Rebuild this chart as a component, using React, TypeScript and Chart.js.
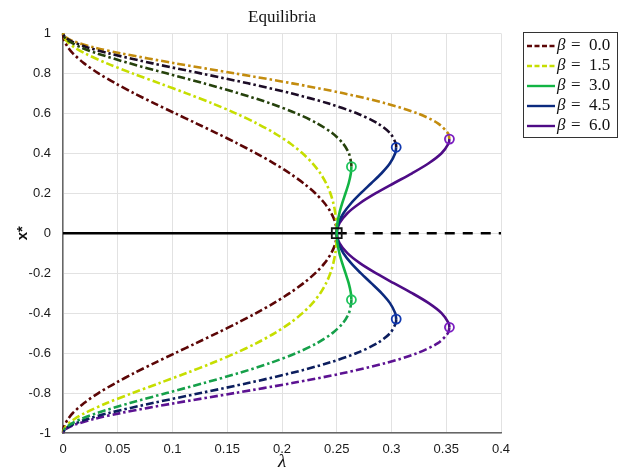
import React, { useEffect, useRef } from "react";
import { Chart, registerables } from "chart.js";

Chart.register(...registerables);

// x* sample values (upper branch; lower branch is mirrored)
const xsFull = [0, 0.05, 0.1, 0.15, 0.2, 0.25, 0.3, 0.35, 0.4, 0.45, 0.5, 0.55, 0.6, 0.65, 0.7, 0.75, 0.8, 0.85, 0.9, 0.93, 0.96, 0.98, 1.0];

// beta = 0.0 (whole branch unstable, dash-dot)
const lamB0 = [0.25, 0.2488, 0.245, 0.2389, 0.2304, 0.2197, 0.207, 0.1925, 0.1764, 0.159, 0.1406, 0.1216, 0.1024, 0.0834, 0.065, 0.0479, 0.0324, 0.0193, 0.009, 0.0046, 0.0015, 0.0004, 0];
// beta = 1.5
const lamB15 = [0.25, 0.2497, 0.2487, 0.2469, 0.2442, 0.2403, 0.235, 0.2279, 0.2187, 0.2073, 0.1934, 0.1768, 0.1577, 0.1362, 0.1128, 0.0882, 0.0635, 0.0401, 0.02, 0.0105, 0.0037, 0.001, 0];

// beta = 3.0
const xsB3Stable = [0, 0.05, 0.1, 0.15, 0.2, 0.25, 0.3, 0.333];
const lamB3Stable = [0.25, 0.2506, 0.2524, 0.255, 0.258, 0.2609, 0.2629, 0.2634];
const xsB3Unstable = [0.333, 0.35, 0.4, 0.45, 0.5, 0.55, 0.6, 0.65, 0.7, 0.75, 0.8, 0.85, 0.9, 0.93, 0.96, 0.98, 1];
const lamB3Unstable = [0.2634, 0.2632, 0.2611, 0.2556, 0.2461, 0.232, 0.213, 0.1891, 0.1606, 0.1286, 0.0946, 0.061, 0.031, 0.0164, 0.0058, 0.0015, 0];

// beta = 4.5
const xsB45Stable = [0, 0.05, 0.1, 0.15, 0.2, 0.25, 0.3, 0.35, 0.4, 0.43];
const lamB45Stable = [0.25, 0.2515, 0.2561, 0.2631, 0.2719, 0.2815, 0.2909, 0.2986, 0.3034, 0.3043];
const xsB45Unstable = [0.43, 0.45, 0.5, 0.55, 0.6, 0.65, 0.7, 0.75, 0.8, 0.85, 0.9, 0.93, 0.96, 0.98, 1];
const lamB45Unstable = [0.3043, 0.3039, 0.2988, 0.2872, 0.2683, 0.2419, 0.2084, 0.169, 0.1257, 0.0818, 0.0419, 0.0223, 0.0079, 0.0021, 0];

// beta = 6.0
const xsB6Stable = [0, 0.05, 0.1, 0.15, 0.2, 0.25, 0.3, 0.35, 0.4, 0.45, 0.471];
const lamB6Stable = [0.25, 0.2525, 0.2597, 0.2711, 0.2857, 0.3021, 0.3188, 0.334, 0.3457, 0.3522, 0.3529];
const xsB6Unstable = [0.471, 0.5, 0.55, 0.6, 0.65, 0.7, 0.75, 0.8, 0.85, 0.9, 0.93, 0.96, 0.98, 1];
const lamB6Unstable = [0.3529, 0.3516, 0.3424, 0.3236, 0.2947, 0.2562, 0.2094, 0.1568, 0.1027, 0.0529, 0.0282, 0.01, 0.0027, 0];

// fold points (lambda, x*)
const foldLam = [0.2634, 0.3043, 0.3529];
const foldX = [0.333, 0.43, 0.471];
const foldColors = ["#1fc45c", "#1038b0", "#7a1cc0"];

// trivial equilibrium x* = 0
const zeroStableLam = [0, 0.25];
const zeroUnstableLam = [0.25, 0.4];
const pitchforkLam = 0.25;

const legendLabels = ["0.0", "1.5", "3.0", "4.5", "6.0"];
const legendColors = ["#5c0606", "#c6de00", "#12b444", "#0c2a7e", "#4e0c86"];
const legendDashed = [true, true, false, false, false];

const xTickVals = [0, 0.05, 0.1, 0.15, 0.2, 0.25, 0.3, 0.35, 0.4];
const yTickVals = [-1, -0.8, -0.6, -0.4, -0.2, 0, 0.2, 0.4, 0.6, 0.8, 1];

const DASHDOT = [8, 3, 2.5, 3];

function pts(xs: number[], lams: number[], sign: number) {
  return xs.map((x, i) => ({ x: lams[i], y: sign * x }));
}
function fullBranch(xs: number[], lams: number[]) {
  const lower = pts(xs, lams, -1).reverse();
  const upper = pts(xs, lams, 1).slice(1);
  return lower.concat(upper);
}

function lineDs(data: any[], color: string, dash: number[] | undefined, width = 2.6) {
  return {
    data,
    showLine: true,
    borderColor: color,
    backgroundColor: color,
    borderWidth: width,
    borderDash: dash || [],
    pointRadius: 0,
    tension: 0.3,
    fill: false,
    clip: 4,
    order: 5,
  };
}

const legendPlugin = {
  id: "customLegend",
  afterDraw(chart: any) {
    const ctx = chart.ctx;
    const x0 = 523, y0 = 32, w = 94, h = 105;
    ctx.save();
    ctx.fillStyle = "#ffffff";
    ctx.fillRect(x0, y0, w, h);
    ctx.strokeStyle = "#333";
    ctx.lineWidth = 1;
    ctx.strokeRect(x0 + 0.5, y0 + 0.5, w, h);
    legendLabels.forEach((lab, i) => {
      const y = 46 + i * 20;
      ctx.beginPath();
      ctx.strokeStyle = legendColors[i];
      ctx.lineWidth = 2.4;
      ctx.setLineDash(legendDashed[i] ? [5, 2.5] : []);
      ctx.moveTo(527, y);
      ctx.lineTo(555, y);
      ctx.stroke();
      ctx.setLineDash([]);
      ctx.fillStyle = "#111";
      ctx.textBaseline = "middle";
      ctx.textAlign = "left";
      ctx.font = "italic 17px 'Liberation Serif', serif";
      ctx.fillText("β", 557, y);
      ctx.font = "17px 'Liberation Serif', serif";
      ctx.fillText("=", 571, y);
      ctx.fillText(lab, 589, y);
    });
    ctx.restore();
  },
};

export default function App() {
  const ref = useRef<HTMLCanvasElement | null>(null);
  useEffect(() => {
    if (!ref.current) return;
    const markers = {
      data: foldLam.flatMap((l, i) => [{ x: l, y: foldX[i] }, { x: l, y: -foldX[i] }]),
      showLine: false,
      pointRadius: 4.5,
      pointStyle: "circle",
      pointBorderWidth: 1.8,
      pointBackgroundColor: "rgba(0,0,0,0)",
      pointBorderColor: foldColors.flatMap((c) => [c, c]),
      order: 0,
      clip: false,
    };
    const square = {
      data: [{ x: pitchforkLam, y: 0 }],
      showLine: false,
      pointRadius: 7,
      pointStyle: "rect",
      pointBorderWidth: 1.8,
      pointBackgroundColor: "rgba(0,0,0,0)",
      pointBorderColor: "#111",
      order: 0,
    };
    const datasets: any[] = [
      markers,
      square,
      // beta 3.0
      lineDs(fullBranch(xsB3Stable, lamB3Stable), "#12b444", undefined),
      lineDs(pts(xsB3Unstable, lamB3Unstable, 1), "#26420c", DASHDOT),
      lineDs(pts(xsB3Unstable, lamB3Unstable, -1), "#16a04a", DASHDOT),
      // beta 4.5
      lineDs(fullBranch(xsB45Stable, lamB45Stable), "#0c2a7e", undefined),
      lineDs(pts(xsB45Unstable, lamB45Unstable, 1), "#1c0c26", DASHDOT),
      lineDs(pts(xsB45Unstable, lamB45Unstable, -1), "#0c1e5e", DASHDOT),
      // beta 6.0
      lineDs(fullBranch(xsB6Stable, lamB6Stable), "#4e0c86", undefined),
      lineDs(pts(xsB6Unstable, lamB6Unstable, 1), "#c38c0e", DASHDOT),
      lineDs(pts(xsB6Unstable, lamB6Unstable, -1), "#5c1292", DASHDOT),
      // beta 0, 1.5
      lineDs(fullBranch(xsFull, lamB15), "#c6de00", DASHDOT),
      lineDs(fullBranch(xsFull, lamB0), "#5c0606", DASHDOT),
      // zero line
      { ...lineDs(zeroStableLam.map((l) => ({ x: l, y: 0 })), "#000", undefined, 2.6), tension: 0, order: 6 },
      { ...lineDs(zeroUnstableLam.map((l) => ({ x: l, y: 0 })), "#000", [10, 8], 2.6), tension: 0, order: 6 },
    ];
    const chart = new Chart(ref.current, {
      type: "scatter",
      data: { datasets },
      plugins: [legendPlugin],
      options: {
        animation: false,
        responsive: false,
        maintainAspectRatio: false,
        layout: { padding: { left: 0, right: 127, top: 0, bottom: 0 } },
        plugins: {
          legend: { display: false },
          tooltip: { enabled: false },
          title: {
            display: true,
            text: "Equilibria",
            fullSize: false,
            color: "#111",
            font: { family: "'Liberation Serif', serif", size: 17, weight: "normal" },
            padding: { top: 7, bottom: 6 },
          },
        },
        scales: {
          x: {
            type: "linear",
            min: 0,
            max: 0.4,
            afterBuildTicks: (s: any) => { s.ticks = xTickVals.map((v) => ({ value: v })); },
            afterFit: (s: any) => { s.height = 42; },
            ticks: {
              color: "#1a1a1a",
              padding: 9,
              maxRotation: 0,
              font: { family: "'Liberation Sans', Arial, sans-serif", size: 13 },
              callback: (v: any) => String(Number(Number(v).toFixed(2))),
            },
            grid: { color: "#e2e2e2", lineWidth: 1, drawTicks: false },
            border: { color: "#666", width: 1.5 },
            title: {
              display: true,
              text: "λ",
              color: "#111",
              font: { family: "'Liberation Serif', serif", size: 19, style: "italic" },
              padding: { top: 0, bottom: 2 },
            },
          },
          y: {
            type: "linear",
            min: -1,
            max: 1,
            afterBuildTicks: (s: any) => { s.ticks = yTickVals.map((v) => ({ value: v })); },
            afterFit: (s: any) => { s.width = 63; },
            ticks: {
              color: "#1a1a1a",
              padding: 12,
              font: { family: "'Liberation Sans', Arial, sans-serif", size: 13 },
              callback: (v: any) => String(Number(Number(v).toFixed(1))),
            },
            grid: { color: "#e2e2e2", lineWidth: 1, drawTicks: false },
            border: { color: "#666", width: 1.5 },
            title: {
              display: true,
              text: "x*",
              color: "#111",
              font: { family: "'Liberation Sans', Arial, sans-serif", size: 15, weight: "bold" },
              padding: { top: 14, bottom: 0 },
            },
          },
        },
      } as any,
    });
    return () => chart.destroy();
  }, []);
  return (
    <div style={{ position: "fixed", left: 0, top: 0, width: 628, height: 475, background: "#fff" }}>
      <canvas ref={ref} width={628} height={475} style={{ width: 628, height: 475 }} />
    </div>
  );
}
